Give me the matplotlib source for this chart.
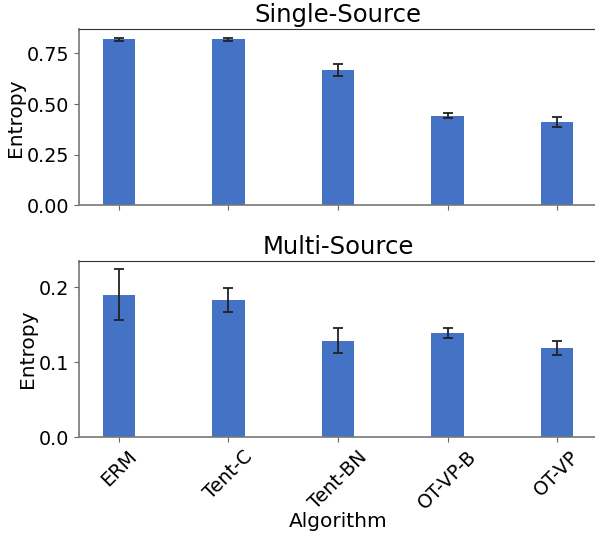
import matplotlib
matplotlib.use("Agg")
import matplotlib.pyplot as plt
import numpy as np

algorithms = ["ERM", "Tent-C", "Tent-BN", "OT-VP-B", "OT-VP"]
single_mean = [0.821, 0.821, 0.668, 0.442, 0.412]
single_err = [0.007, 0.007, 0.031, 0.012, 0.023]
multi_mean = [0.1895, 0.1825, 0.1285, 0.1388, 0.1190]
multi_err = [0.034, 0.016, 0.0168, 0.007, 0.0095]

bar_color = "#4472C4"

fig = plt.figure(figsize=(5.95, 5.33), dpi=100)
W, H = 595, 533
left, right = 79 / W, 597 / W
ax1 = fig.add_axes([left, 1 - 205.3 / H, right - left, (205.3 - 29.3) / H])
ax2 = fig.add_axes([left, 1 - 437.3 / H, right - left, (437.3 - 261) / H])

x = np.arange(len(algorithms))
for ax, mean, err, title in [(ax1, single_mean, single_err, "Single-Source"),
                             (ax2, multi_mean, multi_err, "Multi-Source")]:
    ax.bar(x, mean, width=0.3, color=bar_color, yerr=err, capsize=3.5,
           error_kw=dict(ecolor="#222222", elinewidth=1.3, capthick=1.3))
    ax.set_title(title, fontsize=17.5, pad=5)
    ax.set_ylabel("Entropy", fontsize=14.5, labelpad=1.5)
    ax.tick_params(axis="both", labelsize=13.8, colors="#666666", labelcolor="black")
    for s in ["left", "bottom"]:
        ax.spines[s].set_color("#777777")
        ax.spines[s].set_linewidth(1.2)
    ax.spines["top"].set_color("#333333")
    ax.spines["right"].set_color("#333333")
    ax.set_xticks(x)

ax1.set_yticks([0.0, 0.25, 0.5, 0.75])
ax1.set_yticklabels(["0.00", "0.25", "0.50", "0.75"])
ax1.set_xticklabels([])
ax2.set_yticks([0.0, 0.1, 0.2])
ax2.set_xticklabels(algorithms, rotation=45)
ax2.set_xlabel("Algorithm", fontsize=14.5, labelpad=-0.5)

fig.savefig("out.png", dpi=100)
